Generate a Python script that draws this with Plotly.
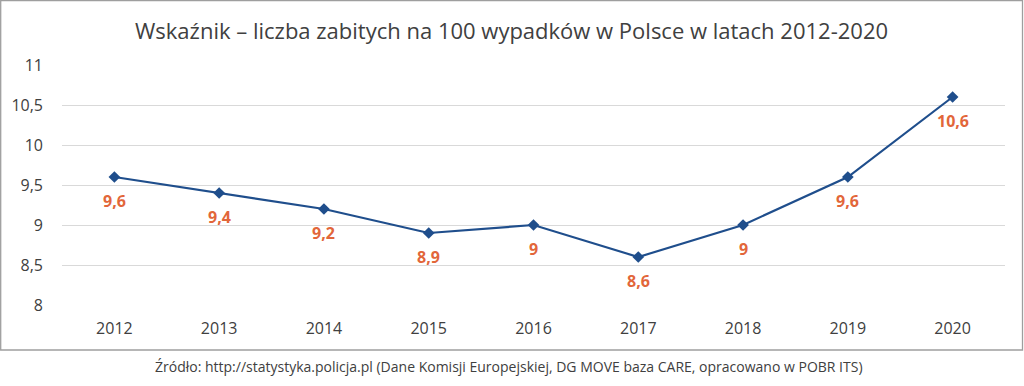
import plotly.graph_objects as go

years = ["2012", "2013", "2014", "2015", "2016", "2017", "2018", "2019", "2020"]
values = [9.6, 9.4, 9.2, 8.9, 9.0, 8.6, 9.0, 9.6, 10.6]
y_ticks = [8, 8.5, 9, 9.5, 10, 10.5, 11]
title_text = "Wskaźnik – liczba zabitych na 100 wypadków w Polsce w latach 2012-2020"
source_text = "Źródło: http://statystyka.policja.pl (Dane Komisji Europejskiej, DG MOVE baza CARE, opracowano w POBR ITS)"

labels = [f"{v:g}".replace(".", ",") for v in values]
tick_text = [f"{v:g}".replace(".", ",") for v in y_ticks]

FONT = "Open Sans"
W, H = 1024, 386
L, R, T, B = 62, 1005, 65, 305

fig = go.Figure()
fig.add_trace(go.Scatter(
    x=years, y=values, mode="lines+markers",
    line=dict(color="#1F4E8C", width=2.2),
    marker=dict(symbol="diamond", size=9, color="#1F4E8C"),
    hoverinfo="x+y", showlegend=False,
))

for i, (v, t) in enumerate(zip(values, labels)):
    fig.add_annotation(x=i, y=v, xref="x", yref="y", text=f"<b>{t}</b>", showarrow=False,
                       yshift=-24, font=dict(family=FONT, size=16, color="#E2663A"))

def px(x):
    return (x - L) / (R - L)

def py(y):
    return (B - y) / (B - T)

fig.add_shape(type="rect", xref="paper", yref="paper",
              x0=px(0.7), x1=px(1022.5), y0=py(350), y1=py(0.7),
              line=dict(color="#9E9E9E", width=1.3), fillcolor="rgba(0,0,0,0)", layer="below")

fig.add_annotation(xref="paper", yref="paper", x=px(511), y=py(30), text=title_text,
                   showarrow=False, xanchor="center", yanchor="middle",
                   font=dict(family=FONT, size=22, color="#404040"))
fig.add_annotation(xref="paper", yref="paper", x=px(509), y=py(366), text=source_text,
                   showarrow=False, xanchor="center", yanchor="middle",
                   font=dict(family=FONT, size=14, color="#404040"))

fig.update_layout(
    width=W, height=H,
    margin=dict(l=L, r=W - R, t=T, b=H - B, pad=0),
    paper_bgcolor="white", plot_bgcolor="white",
    font=dict(family=FONT, color="#595959"),
    xaxis=dict(type="category", range=[-0.5, 8.5], showgrid=False, showline=False,
               zeroline=False, ticks="", tickfont=dict(size=16, color="#404040"),
               ticklabelstandoff=12),
    yaxis=dict(range=[8, 11], tickvals=y_ticks, ticktext=tick_text, showgrid=True,
               gridcolor="#D9D9D9", gridwidth=1.3, zeroline=False, showline=False,
               ticks="", tickfont=dict(size=16, color="#404040"), ticklabelstandoff=18),
)

fig.write_html("out.html", config={"displayModeBar": False},
               post_script="document.body.style.margin='0';")
